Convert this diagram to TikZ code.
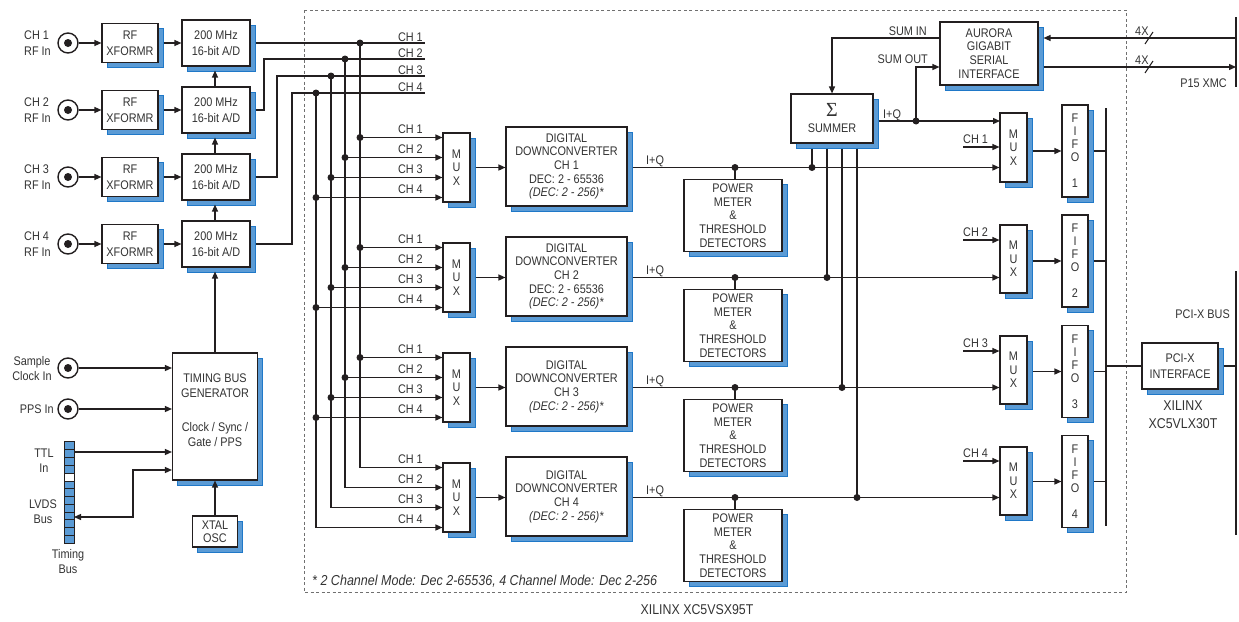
\documentclass[tikz,border=0pt]{standalone}
\usepackage{fontspec}
\setmainfont{Liberation Sans}[FakeStretch=0.87]
\newfontfamily\sigfont{Liberation Serif}
\usetikzlibrary{arrows.meta,shadows,calc}
\definecolor{ink}{HTML}{231F20}
\definecolor{txt}{HTML}{333333}
\definecolor{shf}{HTML}{5B9BD5}
\definecolor{she}{HTML}{1F78C8}
\definecolor{frm}{HTML}{707070}
\begin{document}
\begin{tikzpicture}[x=1pt,y=-1pt,
  font=\fontsize{12.5}{13.7}\selectfont, text=txt,
  ln/.style={draw=ink, line width=1.3pt},
  arr/.style={ln,-{Triangle[length=7pt,width=6pt]}},
  blk/.style={draw=ink, fill=white, line width=1.1pt, inner sep=0pt, align=center,
     drop shadow={shadow xshift=5pt, shadow yshift=-5pt, fill=shf, draw=she, line width=0.8pt, opacity=1}},
  dot/.style={circle, fill=ink, inner sep=0pt, minimum size=7pt},
  jack/.style={circle, draw=ink, line width=1.4pt, fill=white, minimum size=20pt, inner sep=0pt},
  jdot/.style={circle, fill=ink, minimum size=8pt, inner sep=0pt},
  lbl/.style={inner sep=0pt, align=center},
  wide/.style={font=\fontsize{12.5}{16}\selectfont},
  big/.style={font=\fontsize{14.2}{18}\selectfont},
  bus/.style={draw=ink, line width=2.6pt},
  sh/.style={shorten <=5pt},
]
\useasboundingbox (0,0) rectangle (1239,621);
% FPGA frame
\draw[frm, dash pattern=on 3pt off 2.5pt, line width=1pt] (304,10) rectangle (1126,592);
\node[lbl, anchor=base west, font=\itshape\fontsize{14.4}{16}\selectfont] (fn) at (312,585) {* 2 Channel Mode: Dec 2-65536, 4 Channel Mode: Dec 2-256};
\node[lbl, big] (fpga) at (697,610) {XILINX XC5VSX95T};

% input rows
\foreach \i/\y in {1/43,2/110,3/177,4/244} {
  \node[jack] (j\i) at (68,\y) {};
  \node[jdot] (jc\i) at (68,\y) {};
  \node[lbl, wide, anchor=west, align=left] (jl\i) at (24,\y) {CH \i\\RF In};
  \node[blk, wide, minimum width=56pt, minimum height=39pt] (xf\i) at (130,\y) {RF\\XFORMR};
  \node[blk, wide, minimum width=68pt, minimum height=46pt] (ad\i) at (216,\y) {200 MHz\\16-bit A/D};
  \draw[arr] (j\i) -- (xf\i);
  \draw[arr, sh] (xf\i) -- (ad\i);
}
\draw[arr, shorten >=4pt] (ad2.north -| 215,0) -- (ad1.south -| 215,0);
\draw[arr, shorten >=4pt] (ad3.north -| 215,0) -- (ad2.south -| 215,0);
\draw[arr, shorten >=4pt] (ad4.north -| 215,0) -- (ad3.south -| 215,0);

% A/D outputs to channel lines
\coordinate (ce1) at (425,43);
\coordinate (ce2) at (425,59);
\coordinate (ce3) at (425,76);
\coordinate (ce4) at (425,93);
\draw[ln, sh] (ad1.east) -- (ce1);
\draw[ln, sh] (ad2.east) -- (264,110) -- (264,59) -- (ce2);
\draw[ln, sh] (ad3.east) -- (277,177) -- (277,76) -- (ce3);
\draw[ln, sh] (ad4.east) -- (292,244) -- (292,93) -- (ce4);
\foreach \j/\cy in {1/43,2/59,3/76,4/93}
  \node[lbl, anchor=base east] (cl\j) at (423,\cy-2) {CH \j};

% MUX + DDC
\foreach \k/\my in {1/167.5,2/277.5,3/387.5,4/497.5}
  \node[blk, minimum width=27pt, minimum height=69pt, font=\fontsize{12.5}{13.5}\selectfont] (m\k) at (456.5,\my) {M\\U\\X};
\node[blk, minimum width=121pt, minimum height=79pt] (dd1) at (566.5,166.5) {DIGITAL\\DOWNCONVERTER\\CH 1\\DEC: 2 - 65536\\\textit{(DEC: 2 - 256)*}};
\node[blk, minimum width=121pt, minimum height=79pt] (dd2) at (566.5,276.5) {DIGITAL\\DOWNCONVERTER\\CH 2\\DEC: 2 - 65536\\\textit{(DEC: 2 - 256)*}};
\node[blk, minimum width=121pt, minimum height=79pt] (dd3) at (566.5,386.5) {DIGITAL\\DOWNCONVERTER\\CH 3\\\textit{(DEC: 2 - 256)*}};
\node[blk, minimum width=121pt, minimum height=79pt] (dd4) at (566.5,496.5) {DIGITAL\\DOWNCONVERTER\\CH 4\\\textit{(DEC: 2 - 256)*}};
\foreach \k in {1,2,3,4}
  \draw[arr, sh] (m\k.east) -- (dd\k.west |- m\k.east);

% channel buses to MUX inputs
\foreach \j/\bx/\cy/\off in {1/360/43/-30, 2/345/59/-10, 3/331/76/10, 4/316/93/30} {
  \node[dot] (cd\j) at (\bx,\cy) {};
  \foreach \k/\my in {1/167.5,2/277.5,3/387.5} {
    \pgfmathsetmacro\yy{\my+\off}
    \node[dot] (bd\k\j) at (\bx,\yy) {};
    \draw[arr] (bd\k\j.center) -- (m\k.west |- bd\k\j);
    \node[lbl, anchor=base east] (bl\k\j) at (423,\yy-4) {CH \j};
  }
  \pgfmathsetmacro\yy{497.5+\off}
  \coordinate (bc\j) at (\bx,\yy);
  \draw[arr] (cd\j.center) -- (bc\j) -- (m4.west |- bc\j);
  \node[lbl, anchor=base east] (bl4\j) at (423,\yy-4) {CH \j};
}

% power meters
\foreach \k/\my in {1/167.5,2/277.5,3/387.5,4/497.5} {
  \node[blk, minimum width=98pt, minimum height=72pt] (pm\k) at (733,\my+48) {POWER\\METER\\\&\\THRESHOLD\\DETECTORS};
  \node[dot] (pd\k) at (735,\my) {};
  \draw[ln] (pd\k.center) -- (pd\k |- pm\k.north);
  \node[lbl, anchor=base west] (iq\k) at (646,\my-3) {I+Q};
}

% summer
\node[blk, minimum width=82pt, minimum height=49pt] (sm) at (832,118.5) {};
\node[lbl, font=\sigfont\fontsize{20}{20}\selectfont] (sig) at (832,110) {Σ};
\node[lbl] (smt) at (832,128) {SUMMER};
\foreach \k/\tx/\my in {1/812/167.5,2/827/277.5,3/842/387.5,4/857/497.5} {
  \node[dot] (st\k) at (\tx,\my) {};
  \draw[ln, sh] (sm.south -| st\k) -- (st\k.center);
}

% aurora
\node[blk, minimum width=98pt, minimum height=63pt] (au) at (989,53.5) {AURORA\\GIGABIT\\SERIAL\\INTERFACE};
\coordinate (si) at (au.west |- 0,38);
\draw[arr] (si) -- (sm.north |- si) -- (sm.north);
\node[lbl, anchor=base east] (sit) at (927,35) {SUM IN};
\coordinate (r1a) at (1000,121);
\draw[arr, sh] (sm.east |- r1a) -- (r1a);
\node[dot] (sod) at (916,121) {};
\draw[arr] (sod.center) -- (916,67) -- (au.west |- 0,67);
\node[lbl, anchor=base east] (sot) at (928,63) {SUM OUT};
\node[lbl, anchor=base west] (iqs) at (883,118) {I+Q};

% XMC connector
\coordinate (xa) at (1236,38);
\coordinate (xb) at (1236,67);
\draw[arr, shorten >=5pt] (xa) -- (au.east |- xa);
\draw[arr, sh] (au.east |- xb) -- (xb);
\draw[ln, line width=1pt] (1145,44) -- (1153,32);
\draw[ln, line width=1pt] (1145,73) -- (1153,61);
\node[lbl, anchor=base west] (x4a) at (1135,35) {4X};
\node[lbl, anchor=base west] (x4b) at (1135,64) {4X};
\draw[bus] (1236,17) -- (1236,87);
\node[lbl, anchor=base east] (p15) at (1227,87) {P15 XMC};

% right MUXes and FIFOs
\node[blk, minimum width=27pt, minimum height=69pt, font=\fontsize{12.5}{13.5}\selectfont] (rm1) at (1013.5,147.5) {M\\U\\X};
\node[blk, minimum width=27pt, minimum height=68pt, font=\fontsize{12.5}{13.5}\selectfont] (rm2) at (1013.5,259) {M\\U\\X};
\node[blk, minimum width=27pt, minimum height=68pt, font=\fontsize{12.5}{13.5}\selectfont] (rm3) at (1013.5,370) {M\\U\\X};
\node[blk, minimum width=27pt, minimum height=68pt, font=\fontsize{12.5}{13.5}\selectfont] (rm4) at (1013.5,481) {M\\U\\X};
\foreach \k/\fy in {1/151,2/261,3/371.5,4/481.5} {
  \node[blk, minimum width=26pt, minimum height=92pt, font=\fontsize{12.5}{13}\selectfont] (ff\k) at (1075,\fy) {F\\I\\F\\O\\[13pt]\k};
  \draw[arr, sh] (rm\k.east |- ff\k.west) -- (ff\k.west);
  \coordinate (fb\k) at (1106,\fy);
  \draw[ln, sh] (ff\k.east) -- (fb\k);
}
% I+Q lines to right MUXes
\foreach \k/\my in {1/167.5,2/277.5,3/387.5,4/497.5}
  \draw[arr, sh] (dd\k.east |- m\k) -- (rm\k.west |- m\k);
% channel inputs to right MUXes
\foreach \k/\cy in {1/147,2/240,3/351,4/461} {
  \coordinate (rc\k) at (963,\cy);
  \draw[arr] (rc\k) -- (rm\k.west |- rc\k);
  \node[lbl, anchor=base west] (rcl\k) at (963,\cy-4) {CH \k};
}
% internal bus, PCI-X
\draw[bus] (1106,108) -- (1106,526);
\node[blk, wide, minimum width=76pt, minimum height=46pt] (pci) at (1180,366) {PCI-X\\INTERFACE};
\coordinate (ib) at (1106,366);
\coordinate (pb) at (1236,366);
\draw[bus] (ib) -- (pci.west);
\draw[bus, sh] (pci.east) -- (pb);
\draw[bus] (1236,271) -- (1236,535);
\node[lbl, anchor=base east] (pcil) at (1230,318) {PCI-X BUS};
\node[lbl, big, anchor=base] (xl1) at (1183,410.5) {XILINX};
\node[lbl, big, anchor=base] (xl2) at (1183,428.5) {XC5VLX30T};

% timing section
\node[blk, minimum width=85pt, minimum height=127pt] (gen) at (215,416.5) {};
\node[lbl, font=\fontsize{12.5}{15}\selectfont] (gent) at (215,410) {TIMING BUS\\GENERATOR\\[19pt]Clock / Sync /\\Gate / PPS};
\draw[arr, shorten >=4pt] (gen.north) -- (gen.north |- ad4.south);
\node[blk, font=\fontsize{12.5}{13}\selectfont, minimum width=45pt, minimum height=31pt] (xt) at (215,531.5) {XTAL\\OSC};
\draw[arr] (xt.north) -- (gen.south);

\node[jack] (js) at (68,368) {};
\node[jdot] (jsc) at (68,368) {};
\draw[arr] (js) -- (gen.west |- js);
\node[lbl, font=\fontsize{12.5}{15}\selectfont] (jsl) at (32,368.5) {Sample\\Clock In};
\node[jack] (jp) at (68,409) {};
\node[jdot] (jpc) at (68,409) {};
\draw[arr] (jp) -- (gen.west |- jp);
\node[lbl, anchor=east] (jpl) at (54,409) {PPS In};

% timing bus connector
\foreach \t in {0,...,3}
  \filldraw[fill=shf, draw=ink, line width=0.8pt] (64,{441+8*\t}) rectangle (74,{449+8*\t});
\filldraw[fill=white, draw=ink, line width=0.8pt] (64,473) rectangle (74,481);
\foreach \t in {0,...,7}
  \filldraw[fill=shf, draw=ink, line width=0.8pt] (64,{481+7.75*\t}) rectangle (74,{488.75+7.75*\t});
\coordinate (ttl) at (74,452);
\draw[arr] (ttl) -- (gen.west |- ttl);
\coordinate (lvb) at (74,517);
\coordinate (lvc) at (133,470);
\draw[ln, {Triangle[length=7pt,width=6pt]}-{Triangle[length=7pt,width=6pt]}] (lvb) -- (lvc |- lvb) -- (lvc) -- (gen.west |- lvc);
\node[lbl, font=\fontsize{12.5}{15}\selectfont] (ttll) at (44,460.5) {TTL\\In};
\node[lbl, font=\fontsize{12.5}{15}\selectfont] (lvl) at (43,512) {LVDS\\Bus};
\node[lbl, font=\fontsize{12.5}{15}\selectfont] (tbl) at (68,561.5) {Timing\\Bus};
\end{tikzpicture}
\end{document}
